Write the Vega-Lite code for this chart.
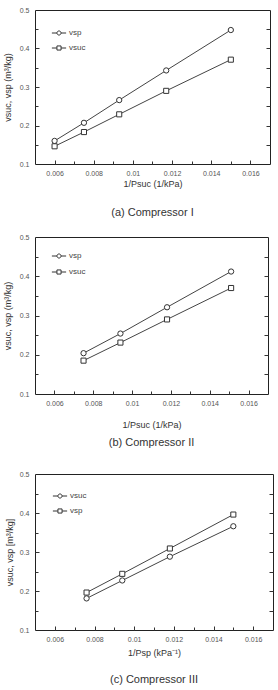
{
  "$schema": "https://vega.github.io/schema/vega-lite/v6.json",
  "padding": {"left": 2, "top": 5, "right": 5, "bottom": 4},
  "datasets": {
    "a": [
      {"series": "vsp", "x": 0.006, "y": 0.160},
      {"series": "vsp", "x": 0.0075, "y": 0.207},
      {"series": "vsp", "x": 0.0093, "y": 0.266},
      {"series": "vsp", "x": 0.0117, "y": 0.343},
      {"series": "vsp", "x": 0.0150, "y": 0.448},
      {"series": "vsuc", "x": 0.006, "y": 0.146},
      {"series": "vsuc", "x": 0.0075, "y": 0.183},
      {"series": "vsuc", "x": 0.0093, "y": 0.229},
      {"series": "vsuc", "x": 0.0117, "y": 0.290},
      {"series": "vsuc", "x": 0.0150, "y": 0.371}
    ],
    "b": [
      {"series": "vsp", "x": 0.0075, "y": 0.204},
      {"series": "vsp", "x": 0.0094, "y": 0.254},
      {"series": "vsp", "x": 0.0118, "y": 0.321},
      {"series": "vsp", "x": 0.0151, "y": 0.412},
      {"series": "vsuc", "x": 0.0075, "y": 0.185},
      {"series": "vsuc", "x": 0.0094, "y": 0.231},
      {"series": "vsuc", "x": 0.0118, "y": 0.290},
      {"series": "vsuc", "x": 0.0151, "y": 0.370}
    ],
    "c": [
      {"series": "vsuc", "x": 0.0076, "y": 0.181},
      {"series": "vsuc", "x": 0.0094, "y": 0.227},
      {"series": "vsuc", "x": 0.0118, "y": 0.288},
      {"series": "vsuc", "x": 0.0150, "y": 0.366},
      {"series": "vsp", "x": 0.0076, "y": 0.196},
      {"series": "vsp", "x": 0.0094, "y": 0.244},
      {"series": "vsp", "x": 0.0118, "y": 0.309},
      {"series": "vsp", "x": 0.0150, "y": 0.396}
    ]
  },
  "spacing": 13,
  "resolve": {"scale": {"fill": "independent", "stroke": "independent"}, "legend": {"fill": "independent", "stroke": "independent"}},
  "vconcat": [
    {
      "width": 235, "height": 154,
      "data": {"name": "a"},
      "title": {"text": "(a)  Compressor  I", "orient": "bottom", "offset": 19},
      "resolve": {"axis": {"x": "independent", "y": "independent"}},
      "layer": [
        {
          "mark": {"type": "line", "color": "#444", "strokeWidth": 1},
          "encoding": {
            "detail": {"field": "series"},
            "x": {"field": "x", "type": "quantitative", "scale": {"domain": [0.005, 0.017], "nice": false, "zero": false},
                  "axis": {"orient": "bottom", "values": [0.006, 0.008, 0.01, 0.012, 0.014, 0.016], "format": ".3~f", "ticks": false, "labelPadding": 5, "title": "1/Psuc (1/kPa)", "titlePadding": 3}},
            "y": {"field": "y", "type": "quantitative", "scale": {"domain": [0.1, 0.5], "nice": false, "zero": false},
                  "axis": {"orient": "left", "values": [0.1, 0.2, 0.3, 0.4, 0.5], "format": ".1~f", "ticks": false, "labelPadding": 6, "title": "vsuc, vsp (m³/kg)", "titlePadding": 7}}
          }
        },
        {
          "transform": [{"filter": "datum.series === 'vsp'"}],
          "mark": {"type": "circle", "stroke": "#333", "strokeWidth": 1, "size": 28, "opacity": 1},
          "encoding": {
            "x": {"field": "x", "type": "quantitative", "axis": null},
            "y": {"field": "y", "type": "quantitative", "axis": null},
            "fill": {"field": "series", "type": "nominal", "scale": {"range": ["white"]},
                     "legend": {"orient": "none", "legendX": 20, "legendY": 19, "title": null, "symbolType": "M-2.6,0H-0.75M0.75,0H2.6M0.75,0A0.75,0.75,0,1,1,-0.75,0A0.75,0.75,0,1,1,0.75,0Z"}}
          }
        },
        {
          "transform": [{"filter": "datum.series === 'vsuc'"}],
          "mark": {"type": "square", "fill": "white", "strokeWidth": 1, "size": 26, "opacity": 1},
          "encoding": {
            "x": {"field": "x", "type": "quantitative", "axis": null},
            "y": {"field": "y", "type": "quantitative", "axis": null},
            "stroke": {"field": "series", "type": "nominal", "scale": {"range": ["#333"]},
                       "legend": {"orient": "none", "legendX": 20, "legendY": 34, "title": null, "symbolType": "M-2.6,0H-0.75M0.75,0H2.6M-0.75,-0.75H0.75V0.75H-0.75Z"}}
          }
        },
        {
          "mark": {"type": "point", "opacity": 0},
          "encoding": {
            "x": {"field": "x", "type": "quantitative", "axis": {"orient": "bottom", "values": [0.006, 0.008, 0.01, 0.012, 0.014, 0.016], "labels": false, "tickSize": -4, "title": null}},
            "y": {"field": "y", "type": "quantitative", "axis": {"orient": "left", "values": [0.2, 0.3, 0.4], "labels": false, "tickSize": -4, "title": null}}
          }
        },
        {
          "mark": {"type": "point", "opacity": 0},
          "encoding": {
            "x": {"field": "x", "type": "quantitative", "axis": {"orient": "bottom", "values": [0.007, 0.009, 0.011, 0.013, 0.015], "labels": false, "tickSize": -3, "title": null}},
            "y": {"field": "y", "type": "quantitative", "axis": {"orient": "left", "values": [0.15, 0.25, 0.35, 0.45], "labels": false, "tickSize": -3, "title": null}}
          }
        },
        {
          "mark": {"type": "point", "opacity": 0},
          "encoding": {
            "x": {"field": "x", "type": "quantitative", "axis": null},
            "y": {"field": "y", "type": "quantitative", "axis": {"orient": "right", "values": [0.15, 0.2, 0.25, 0.3, 0.35, 0.4, 0.45], "labels": false, "tickSize": -4, "title": null}}
          }
        }
      ]
    },
    {
      "spacing": 20,
      "resolve": {"scale": {"fill": "independent", "stroke": "independent"}, "legend": {"fill": "independent", "stroke": "independent"}},
      "vconcat": [
        {
          "width": 233, "height": 157,
          "data": {"name": "b"},
          "title": {"text": "(b)  Compressor  II", "orient": "bottom", "offset": 8},
          "resolve": {"axis": {"x": "independent", "y": "independent"}},
          "layer": [
            {
              "mark": {"type": "line", "color": "#444", "strokeWidth": 1},
              "encoding": {
                "detail": {"field": "series"},
                "x": {"field": "x", "type": "quantitative", "scale": {"domain": [0.005, 0.017], "nice": false, "zero": false},
                      "axis": {"orient": "bottom", "values": [0.006, 0.008, 0.01, 0.012, 0.014, 0.016], "format": ".3~f", "ticks": false, "labelPadding": 5, "title": "1/Psuc (1/kPa)", "titlePadding": 14}},
                "y": {"field": "y", "type": "quantitative", "scale": {"domain": [0.1, 0.5], "nice": false, "zero": false},
                      "axis": {"orient": "left", "values": [0.1, 0.2, 0.3, 0.4, 0.5], "format": ".1~f", "ticks": false, "labelPadding": 6, "title": "vsuc, vsp (m³/kg)", "titlePadding": 7}}
              }
            },
            {
              "transform": [{"filter": "datum.series === 'vsp'"}],
              "mark": {"type": "circle", "stroke": "#333", "strokeWidth": 1, "size": 28, "opacity": 1},
              "encoding": {
                "x": {"field": "x", "type": "quantitative", "axis": null},
                "y": {"field": "y", "type": "quantitative", "axis": null},
                "fill": {"field": "series", "type": "nominal", "scale": {"range": ["white"]},
                         "legend": {"orient": "none", "legendX": 20, "legendY": 15, "title": null, "symbolType": "M-2.6,0H-0.75M0.75,0H2.6M0.75,0A0.75,0.75,0,1,1,-0.75,0A0.75,0.75,0,1,1,0.75,0Z"}}
              }
            },
            {
              "transform": [{"filter": "datum.series === 'vsuc'"}],
              "mark": {"type": "square", "fill": "white", "strokeWidth": 1, "size": 26, "opacity": 1},
              "encoding": {
                "x": {"field": "x", "type": "quantitative", "axis": null},
                "y": {"field": "y", "type": "quantitative", "axis": null},
                "stroke": {"field": "series", "type": "nominal", "scale": {"range": ["#333"]},
                           "legend": {"orient": "none", "legendX": 20, "legendY": 31, "title": null, "symbolType": "M-2.6,0H-0.75M0.75,0H2.6M-0.75,-0.75H0.75V0.75H-0.75Z"}}
              }
            },
            {
              "mark": {"type": "point", "opacity": 0},
              "encoding": {
                "x": {"field": "x", "type": "quantitative", "axis": {"orient": "bottom", "values": [0.006, 0.008, 0.01, 0.012, 0.014, 0.016], "labels": false, "tickSize": -4, "title": null}},
                "y": {"field": "y", "type": "quantitative", "axis": {"orient": "left", "values": [0.2, 0.3, 0.4], "labels": false, "tickSize": -4, "title": null}}
              }
            },
            {
              "mark": {"type": "point", "opacity": 0},
              "encoding": {
                "x": {"field": "x", "type": "quantitative", "axis": {"orient": "bottom", "values": [0.007, 0.009, 0.011, 0.013, 0.015], "labels": false, "tickSize": -3, "title": null}},
                "y": {"field": "y", "type": "quantitative", "axis": {"orient": "left", "values": [0.15, 0.25, 0.35, 0.45], "labels": false, "tickSize": -3, "title": null}}
              }
            },
            {
              "mark": {"type": "point", "opacity": 0},
              "encoding": {
                "x": {"field": "x", "type": "quantitative", "axis": null},
                "y": {"field": "y", "type": "quantitative", "axis": {"orient": "right", "values": [0.15, 0.2, 0.25, 0.3, 0.35, 0.4, 0.45], "labels": false, "tickSize": -4, "title": null}}
              }
            }
          ]
        },
        {
          "width": 238, "height": 156,
          "data": {"name": "c"},
          "title": {"text": "(c)  Compressor  III", "orient": "bottom", "offset": 17},
          "resolve": {"axis": {"x": "independent", "y": "independent"}},
          "layer": [
            {
              "mark": {"type": "line", "color": "#444", "strokeWidth": 1},
              "encoding": {
                "detail": {"field": "series"},
                "x": {"field": "x", "type": "quantitative", "scale": {"domain": [0.005, 0.017], "nice": false, "zero": false},
                      "axis": {"orient": "bottom", "values": [0.006, 0.008, 0.01, 0.012, 0.014, 0.016], "format": ".3~f", "ticks": false, "labelPadding": 5, "title": "1/Psp (kPa⁻¹)", "titlePadding": 6}},
                "y": {"field": "y", "type": "quantitative", "scale": {"domain": [0.1, 0.5], "nice": false, "zero": false},
                      "axis": {"orient": "left", "values": [0.1, 0.2, 0.3, 0.4, 0.5], "format": ".1~f", "ticks": false, "labelPadding": 6, "title": "vsuc, vsp [m³/kg]", "titlePadding": 5}}
              }
            },
            {
              "transform": [{"filter": "datum.series === 'vsuc'"}],
              "mark": {"type": "circle", "stroke": "#333", "strokeWidth": 1, "size": 28, "opacity": 1},
              "encoding": {
                "x": {"field": "x", "type": "quantitative", "axis": null},
                "y": {"field": "y", "type": "quantitative", "axis": null},
                "fill": {"field": "series", "type": "nominal", "scale": {"range": ["white"]},
                         "legend": {"orient": "none", "legendX": 21, "legendY": 18, "title": null, "symbolType": "M-2.6,0H-0.75M0.75,0H2.6M0.75,0A0.75,0.75,0,1,1,-0.75,0A0.75,0.75,0,1,1,0.75,0Z"}}
              }
            },
            {
              "transform": [{"filter": "datum.series === 'vsp'"}],
              "mark": {"type": "square", "fill": "white", "strokeWidth": 1, "size": 26, "opacity": 1},
              "encoding": {
                "x": {"field": "x", "type": "quantitative", "axis": null},
                "y": {"field": "y", "type": "quantitative", "axis": null},
                "stroke": {"field": "series", "type": "nominal", "scale": {"range": ["#333"]},
                           "legend": {"orient": "none", "legendX": 21, "legendY": 33, "title": null, "symbolType": "M-2.6,0H-0.75M0.75,0H2.6M-0.75,-0.75H0.75V0.75H-0.75Z"}}
              }
            },
            {
              "mark": {"type": "point", "opacity": 0},
              "encoding": {
                "x": {"field": "x", "type": "quantitative", "axis": {"orient": "bottom", "values": [0.006, 0.008, 0.01, 0.012, 0.014, 0.016], "labels": false, "tickSize": -4, "title": null}},
                "y": {"field": "y", "type": "quantitative", "axis": {"orient": "left", "values": [0.2, 0.3, 0.4], "labels": false, "tickSize": -4, "title": null}}
              }
            },
            {
              "mark": {"type": "point", "opacity": 0},
              "encoding": {
                "x": {"field": "x", "type": "quantitative", "axis": {"orient": "bottom", "values": [0.007, 0.009, 0.011, 0.013, 0.015], "labels": false, "tickSize": -3, "title": null}},
                "y": {"field": "y", "type": "quantitative", "axis": {"orient": "left", "values": [0.15, 0.25, 0.35, 0.45], "labels": false, "tickSize": -3, "title": null}}
              }
            },
            {
              "mark": {"type": "point", "opacity": 0},
              "encoding": {
                "x": {"field": "x", "type": "quantitative", "axis": null},
                "y": {"field": "y", "type": "quantitative", "axis": {"orient": "right", "values": [0.15, 0.2, 0.25, 0.3, 0.35, 0.4, 0.45], "labels": false, "tickSize": -4, "title": null}}
              }
            }
          ]
        }
      ]
    }
  ],
  "config": {
    "font": "Liberation Sans",
    "view": {"stroke": "#222", "strokeWidth": 1},
    "axis": {"grid": false, "domain": false, "labelFontSize": 7, "labelColor": "#555", "labelFont": "Liberation Sans", "titleFont": "Liberation Sans", "titleFontSize": 9, "titleFontWeight": "normal", "titleColor": "#333", "tickColor": "#333", "tickWidth": 1},
    "legend": {"labelFontSize": 8, "labelColor": "#444", "labelFont": "Liberation Sans", "symbolSize": 30, "labelOffset": 6, "padding": 0, "symbolFillColor": "white", "symbolStrokeColor": "#333", "symbolStrokeWidth": 1},
    "title": {"fontSize": 11, "fontWeight": "normal", "color": "#333", "font": "Liberation Sans"}
  }
}
